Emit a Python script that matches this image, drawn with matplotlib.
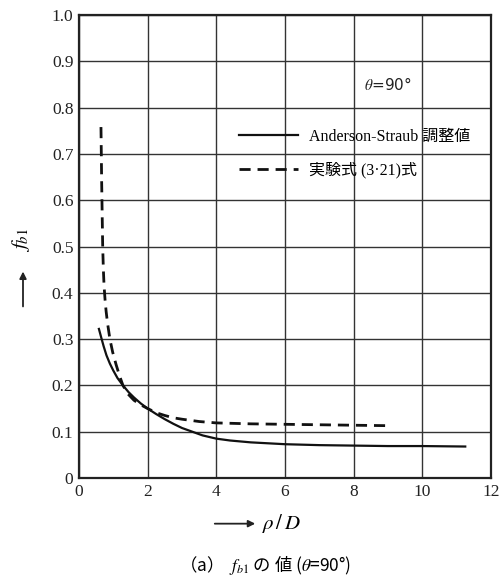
import matplotlib
matplotlib.use("Agg")
import matplotlib.pyplot as plt
from matplotlib.patches import Rectangle, FancyArrowPatch

plt.rcParams["mathtext.fontset"] = "stix"

# data
solid_x = [0.58, 0.62, 0.66, 0.72, 0.80, 0.90, 1.00, 1.12, 1.28, 1.45, 1.60, 1.80, 2.00, 2.25, 2.50, 2.75, 3.00,
           3.30, 3.60, 4.00, 4.40, 5.00, 5.50, 6.00, 7.00, 8.00, 9.00, 10.00, 11.25]
solid_y = [0.322, 0.311, 0.300, 0.284, 0.265, 0.247, 0.232, 0.216, 0.200, 0.185, 0.174, 0.161, 0.150, 0.138,
           0.127, 0.117, 0.108, 0.100, 0.092, 0.085, 0.081, 0.077, 0.075, 0.073, 0.071, 0.070, 0.069, 0.069, 0.068]
dash_x = [0.64, 0.65, 0.66, 0.675, 0.69, 0.71, 0.73, 0.76, 0.79, 0.83, 0.90, 0.98, 1.08, 1.18, 1.28, 1.42, 1.60,
          1.80, 2.00, 2.25, 2.50, 2.75, 3.00, 3.50, 4.00, 5.00, 6.00, 7.00, 8.00, 9.04]
dash_y = [0.758, 0.70, 0.64, 0.57, 0.50, 0.45, 0.415, 0.384, 0.36, 0.335, 0.300, 0.272, 0.245, 0.221, 0.200,
          0.182, 0.168, 0.158, 0.150, 0.141, 0.135, 0.130, 0.127, 0.122, 0.119, 0.117, 0.116, 0.115, 0.114, 0.113]
x_ticks = [0, 2, 4, 6, 8, 10, 12]
y_ticks = [0, 0.1, 0.2, 0.3, 0.4, 0.5, 0.6, 0.7, 0.8, 0.9, 1.0]
y_tick_labels = ["0", "0.1", "0.2", "0.3", "0.4", "0.5", "0.6", "0.7", "0.8", "0.9", "1.0"]
legend_labels = ["Anderson-Straub 調整値", "実験式 (3·21)式"]

serif = ["Liberation Serif", "Noto Sans CJK JP"]

fig = plt.figure(figsize=(5.0, 5.78), dpi=100)
ax = fig.add_axes([0.158, 0.173, 0.824, 0.801])

ax.set_xlim(0, 12)
ax.set_ylim(0, 1.0)
ax.set_xticks(x_ticks)
ax.set_yticks(y_ticks)
ax.set_xticklabels([str(t) for t in x_ticks], family=serif, fontsize=12.5)
ax.set_yticklabels(y_tick_labels, family=serif, fontsize=12.5)
ax.tick_params(length=0, pad=4, colors="#222222")
ax.grid(True, color="#333333", linewidth=1.0, zorder=0)
for s in ax.spines.values():
    s.set_linewidth(1.6)
    s.set_color("#222222")

# white legend area covering the grid
ax.add_patch(Rectangle((4.4, 0.607), 7.3, 0.188, facecolor="white",
                       edgecolor="none", zorder=1.5))

l1, = ax.plot(solid_x, solid_y, color="#111111", lw=1.6, zorder=3,
              label=legend_labels[0])
l2, = ax.plot(dash_x, dash_y, color="#111111", lw=2.0, ls=(0, (4, 2.5)), zorder=3,
              label=legend_labels[1])

leg = ax.legend(handles=[l1, l2], loc="center left",
                bbox_to_anchor=(0.36, 0.607, 0.6, 0.188),
                frameon=False, handlelength=3.7, handletextpad=0.7,
                labelspacing=1.05, borderpad=0.2,
                prop={"family": serif, "size": 11.5})

ax.text(9.0, 0.85, r"$\theta$=90°", ha="center", va="center",
        fontsize=11, family=["DejaVu Sans"], color="#222222", zorder=4)

# y label with arrow
fig.text(0.043, 0.585, r"$f_{b1}$", rotation=90, ha="center", va="center",
         fontsize=15)
fig.add_artist(FancyArrowPatch(
    (0.046, 0.465), (0.046, 0.535), transform=fig.transFigure,
    arrowstyle="-|>", mutation_scale=10, lw=1.3, color="#222222"))

# x label with arrow
fig.add_artist(FancyArrowPatch(
    (0.424, 0.094), (0.516, 0.094), transform=fig.transFigure,
    arrowstyle="-|>", mutation_scale=10, lw=1.3, color="#222222"))
fig.text(0.524, 0.094, r"$\rho\,/\,D$", ha="left", va="center", fontsize=15)

# caption
fig.text(0.53, 0.023, "（a）  $f_{b1}$ の 値 ($\\theta$=90°)", ha="center",
         va="center", fontsize=12.5, family=["Noto Sans CJK JP", "DejaVu Sans"])

fig.savefig("out.png", dpi=100)
